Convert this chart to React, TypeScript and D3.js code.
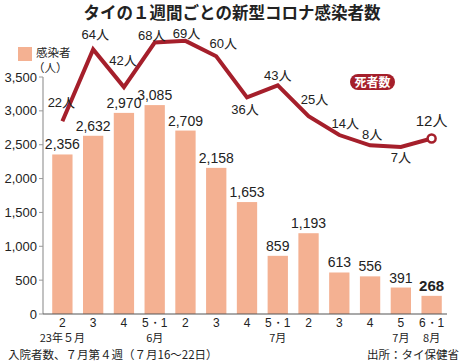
import React from "react";
import * as d3 from "d3";

const weeks = ["2", "3", "4", "5・1", "2", "3", "4", "5・1", "2", "3", "4", "5", "6・1"];
const monthLabels = ["23年５月", "", "", "6月", "", "", "", "7月", "", "", "", "7月", "8月"];
const cases = [2356, 2632, 2970, 3085, 2709, 2158, 1653, 859, 1193, 613, 556, 391, 268];
const deaths = [22, 64, 42, 68, 69, 60, 36, 43, 25, 14, 8, 7, 12];
const yTicks = [0, 500, 1000, 1500, 2000, 2500, 3000, 3500];

// label nudges for the death values, [dx, dy] from the point
const deathLabelNudge: [number, number][] = [
  [-1, -14], [2, -10], [-1, -22], [-3, -3], [1, -3], [7, -8], [-2, 17],
  [0, -5], [6, -12], [6, -7], [2, -6], [0, 15], [0, -12],
];

const W = 465, H = 364;
const NUM_FONT = "'Liberation Sans Narrow', 'Liberation Sans', sans-serif";
const JP_FONT = "'Noto Sans CJK JP', sans-serif";
const RED = "#a51f2b";
const BAR = "#f4b192";

export default function App() {
  const x = d3.scaleBand<number>()
    .domain(d3.range(weeks.length))
    .range([47, 447])
    .paddingInner(0.34)
    .paddingOuter(0.17);
  const y = d3.scaleLinear().domain([0, 3500]).range([314, 77]);
  const yd = d3.scaleLinear().domain([0, 80]).range([159, 22]);
  const cx = (i: number) => (x(i) as number) + x.bandwidth() / 2;

  const line = d3.line<number>()
    .x((d, i) => cx(i))
    .y(d => yd(d));

  const fmt = d3.format(",");
  const last = weeks.length - 1;

  return (
    <svg width={W} height={H} style={{ position: "absolute", left: 0, top: 0, background: "#fff" }}>
      <text x={232} y={18.5} textAnchor="middle" fontFamily={JP_FONT} fontWeight="bold" fontSize={16.5} fill="#222">
        タイの１週間ごとの新型コロナ感染者数
      </text>

      {/* legend */}
      <rect x={18} y={47} width={14} height={14} fill={BAR} />
      <text x={36} y={56.5} fontFamily={JP_FONT} fontSize={11.5} fill="#222">感染者</text>
      <text x={33} y={71.5} fontFamily={JP_FONT} fontSize={11.5} fill="#222">（人）</text>

      {/* y axis */}
      <line x1={43} x2={43} y1={y(3500)} y2={y(0)} stroke="#999" strokeWidth={1.2} />
      {yTicks.map(t => (
        <g key={t}>
          <line x1={39} x2={43} y1={y(t)} y2={y(t)} stroke="#999" />
          <text x={37} y={y(t)} dy="0.35em" textAnchor="end" fontFamily={NUM_FONT} fontSize={13} fill="#222">
            {fmt(t)}
          </text>
        </g>
      ))}

      {/* bars */}
      {cases.map((v, i) => (
        <g key={i}>
          <rect x={x(i)} y={y(v)} width={x.bandwidth()} height={y(0) - y(v)} fill={BAR} />
          <text x={cx(i)} y={y(v) - 5} textAnchor="middle" fontFamily={NUM_FONT}
            fontSize={i === last ? 15 : 14} fontWeight={i === last ? "bold" : "normal"} fill="#222">
            {fmt(v)}
          </text>
        </g>
      ))}
      <line x1={43} x2={447} y1={y(0)} y2={y(0)} stroke="#555" strokeWidth={1.2} />

      {/* x labels */}
      {weeks.map((w, i) => (
        <g key={i}>
          <text x={cx(i)} y={326.5} textAnchor="middle" fontFamily={NUM_FONT} fontSize={12} fill="#222">{w}</text>
          {monthLabels[i] && (
            <text x={cx(i)} y={341.5} textAnchor="middle" fontFamily={JP_FONT} fontSize={11} fill="#222">
              {monthLabels[i]}
            </text>
          )}
        </g>
      ))}

      {/* deaths line */}
      <path d={line(deaths) || ""} fill="none" stroke={RED} strokeWidth={4} strokeLinejoin="miter" />
      <circle cx={cx(last)} cy={yd(deaths[last])} r={4} fill="#fff" stroke={RED} strokeWidth={2.5} />
      {deaths.map((d, i) => (
        <text key={i} x={cx(i) + deathLabelNudge[i][0]} y={yd(d) + deathLabelNudge[i][1]}
          textAnchor="middle" fontFamily={NUM_FONT} fontSize={i === last ? 15 : 13} fill="#222">
          {d}<tspan fontFamily={JP_FONT}>人</tspan>
        </text>
      ))}

      {/* deaths tag */}
      <rect x={350} y={74} width={45} height={16} rx={8} fill={RED} />
      <text x={372.5} y={86.5} textAnchor="middle" fontFamily={JP_FONT} fontWeight="bold" fontSize={12} fill="#fff">死者数</text>

      {/* footer */}
      <text x={8} y={358.5} fontFamily={JP_FONT} fontSize={11.5} fill="#222">入院者数、７月第４週（７月16～22日）</text>
      <text x={459} y={358.5} textAnchor="end" fontFamily={JP_FONT} fontSize={11.5} fill="#222">出所：タイ保健省</text>
    </svg>
  );
}
